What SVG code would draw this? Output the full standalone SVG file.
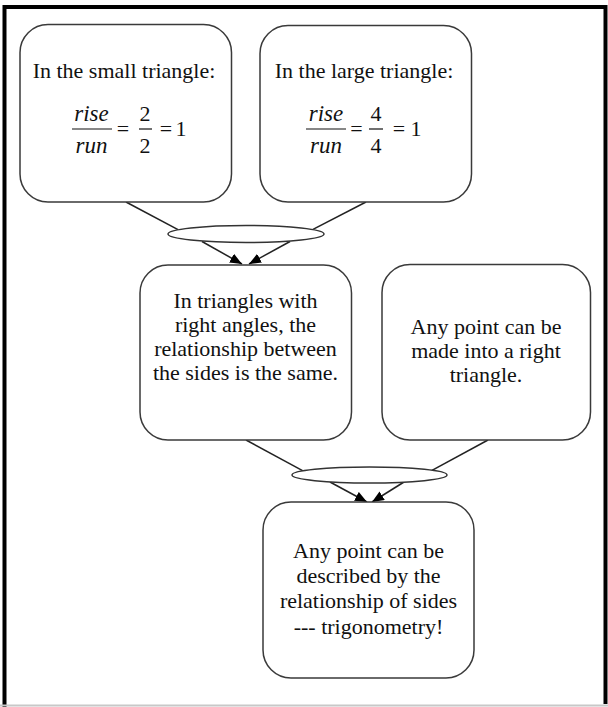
<svg xmlns="http://www.w3.org/2000/svg" width="608" height="707" viewBox="0 0 608 707">
<style>
.box{fill:#fff;stroke:#3a3a3a;stroke-width:1.5}
.junc{fill:#fff;stroke:#333;stroke-width:1.5}
.conn{stroke:#222;stroke-width:1.5;fill:none}
.t{font-size:22px;fill:#111;text-anchor:middle}
.m{font-size:22px;fill:#111;text-anchor:middle}
.mi{font-size:23px;font-style:italic;fill:#111;text-anchor:middle}
.bar{stroke:#111;stroke-width:1.2}
</style>
<defs>
<marker id="arr" markerUnits="userSpaceOnUse" markerWidth="12" markerHeight="10" refX="12" refY="5" orient="auto">
<path d="M0,0 L12,5 L0,10 z" fill="#000"/>
</marker>
</defs>
<rect x="0" y="0" width="608" height="707" fill="#fff"/>
<path d="M4.5,707 V7 H605.5 V704" fill="none" stroke="#000" stroke-width="4"/>
<line x1="0" y1="705.5" x2="608" y2="705.5" stroke="#c8c8c8" stroke-width="2"/>

<g id="connectors">
<line class="conn" x1="126" y1="202" x2="178" y2="229.6"/>
<line class="conn" x1="366" y1="202" x2="313" y2="229.4"/>
<line class="conn" x1="202" y1="241.5" x2="242" y2="264" marker-end="url(#arr)"/>
<line class="conn" x1="290" y1="241.5" x2="249" y2="264" marker-end="url(#arr)"/>
<line class="conn" x1="246" y1="440" x2="303" y2="470.9"/>
<line class="conn" x1="488" y1="440" x2="432" y2="470.3"/>
<line class="conn" x1="330" y1="482" x2="367" y2="502" marker-end="url(#arr)"/>
<line class="conn" x1="404" y1="482" x2="372" y2="502" marker-end="url(#arr)"/>
</g>

<g font-family="'Liberation Serif', 'DejaVu Serif', serif">
<g id="small-triangle">
<rect class="box" x="20" y="24.5" width="211.5" height="177.5" rx="28"/>
<text class="t" x="124" y="78">In the small  triangle:</text>
<text class="mi" x="91.5" y="121">rise</text>
<line class="bar" x1="72" y1="129" x2="112" y2="129"/>
<text class="mi" x="91.5" y="153">run</text>
<text class="m" x="123" y="136">=</text>
<text class="m" x="145" y="121">2</text>
<line class="bar" x1="139" y1="129" x2="152" y2="129"/>
<text class="m" x="145" y="153">2</text>
<text class="m" x="166" y="136">=</text>
<text class="m" x="181" y="136">1</text>
</g>

<g id="large-triangle">
<rect class="box" x="260" y="25.5" width="211.5" height="176.5" rx="28"/>
<text class="t" x="364" y="78">In the large triangle:</text>
<text class="mi" x="326" y="121">rise</text>
<line class="bar" x1="306" y1="129" x2="346" y2="129"/>
<text class="mi" x="326" y="153">run</text>
<text class="m" x="356.5" y="136">=</text>
<text class="m" x="376" y="121">4</text>
<line class="bar" x1="369" y1="129" x2="383" y2="129"/>
<text class="m" x="376" y="153">4</text>
<text class="m" x="399" y="136">=</text>
<text class="m" x="416" y="136">1</text>
</g>

<g id="junction-1">
<ellipse class="junc" cx="246" cy="234" rx="78" ry="8.5"/>
</g>

<g id="right-angles">
<rect class="box" x="140" y="265" width="211.5" height="175" rx="28"/>
<text class="t" x="245.5" y="308">In triangles with</text>
<text class="t" x="245.5" y="332">right angles, the</text>
<text class="t" x="245.5" y="356">relationship between</text>
<text class="t" x="245.5" y="380">the sides is the same.</text>
</g>

<g id="any-point">
<rect class="box" x="382" y="264.5" width="208.5" height="175.5" rx="28"/>
<text class="t" x="486" y="334">Any point can be</text>
<text class="t" x="486" y="358">made into a right</text>
<text class="t" x="486" y="382">triangle.</text>
</g>

<g id="junction-2">
<ellipse class="junc" cx="369.5" cy="475" rx="77.5" ry="8"/>
</g>

<g id="trigonometry">
<rect class="box" x="263" y="502" width="211" height="176" rx="28"/>
<text class="t" x="368.5" y="558">Any point can be</text>
<text class="t" x="368.5" y="583">described by the</text>
<text class="t" x="368.5" y="608">relationship of sides</text>
<text class="t" x="368.5" y="634">--- trigonometry!</text>
</g>
</g>
</svg>
